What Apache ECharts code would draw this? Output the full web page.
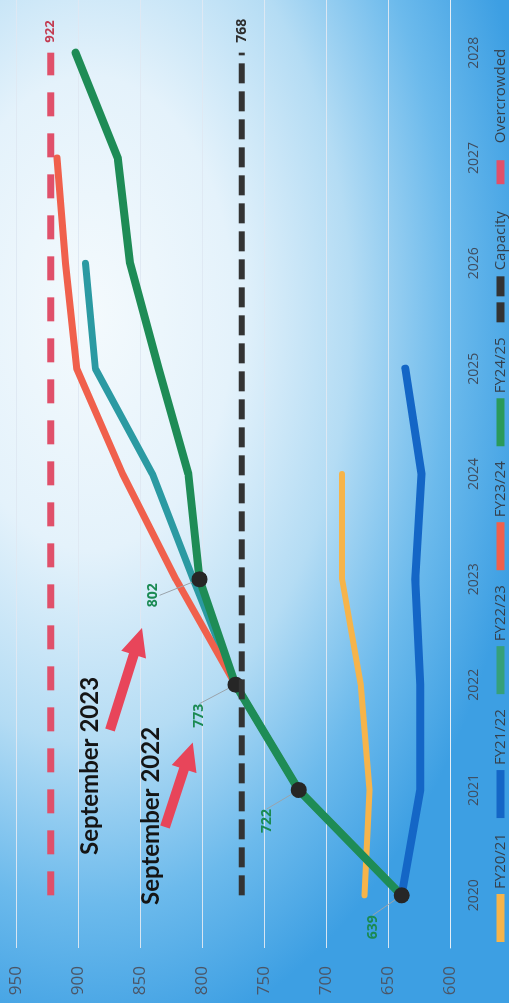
<!DOCTYPE html>
<html>
<head>
<meta charset="utf-8">
<script src="https://cdn.jsdelivr.net/npm/echarts@6/dist/echarts.min.js"></script>
<style>
html,body{margin:0;padding:0;width:509px;height:1003px;overflow:hidden;background:#4aa6e6;}
/* the photo shows the chart turned a quarter turn, so draw it flat and turn the box */
#turn{position:absolute;left:0;top:0;width:1003px;height:509px;
  transform-origin:0 0;transform:translate(0,1003px) rotate(-90deg);
  background:radial-gradient(ellipse 740px 450px at 690px 90px,#f4fafd 0%,#e4f2fb 32%,#b4dcf4 58%,#6cbaec 80%,#3d9fe3 100%);}
#chart{width:1003px;height:509px;}
</style>
</head>
<body>
<div id="turn"><div id="chart"></div></div>
<script>
// years on the category axis
var years = ['2020','2021','2022','2023','2024','2025','2026','2027','2028'];

// forecasts
var fy2021 = [669, 665, 672, 687, 687];
var fy2122 = [639, 624, 624, 628, 623, 636];
var fy2223 = [639, 722, 773, 807, 840, 886, 894];
var fy2324 = [639, 722, 773, 821, 864, 901, 910, 917];
var fy2425 = [639, 722, 773, 802, 811, 835, 858, 868, 902];
var capacity = [768, 768, 768, 768, 768, 768, 768, 768, 768];
var overcrowded = [922, 922, 922, 922, 922, 922, 922, 922, 922];
var actualCount = 4; // first points of FY24/25 are actuals (dots + labels)

var valueTicks = {min: 600, max: 950, step: 50};

// label shift for the green callouts
var labelShift = [[-32, -9], [-31, -12], [-31, -16], [-16, -27]];

var greenData = fy2425.map(function (v, i) {
    if (i < actualCount) {
        return {value: v, symbol: 'circle', label: {show: true}};
    }
    return {value: v, symbol: 'none'};
});

var txtFont = '"Open Sans", "Noto Sans", sans-serif';

function plain(name, data, color, width) {
    return {
        name: name,
        type: 'line',
        data: data,
        symbol: 'none',
        smooth: false,
        lineStyle: {color: color, width: width, cap: 'round', join: 'round'},
        itemStyle: {color: color}
    };
}

var chart = echarts.init(document.getElementById('chart'), null, {renderer: 'canvas'});
var option = {
    backgroundColor: 'transparent',
    animation: false,
    grid: {left: 55, right: -6, top: 16, bottom: 59},
    legend: {
        left: 56,
        top: 488,
        itemWidth: 48,
        itemHeight: 8,
        itemGap: 15,
        textStyle: {color: '#34414f', fontSize: 15, fontFamily: txtFont},
        itemStyle: {borderWidth: 0},
        data: [
            {name: 'FY20/21', icon: 'rect'},
            {name: 'FY21/22', icon: 'rect'},
            {name: 'FY22/23', icon: 'rect', itemStyle: {color: '#35a07a'}},
            {name: 'FY23/24', icon: 'rect'},
            {name: 'FY24/25', icon: 'rect', itemStyle: {color: '#2a9a5a'}},
            {name: 'Capacity', icon: 'path://M0,0H20V8H0Z M26,0H46V8H26Z'},
            {name: 'Overcrowded', icon: 'path://M0,0 M48,8 M12,0H36V8H12Z'}
        ]
    },
    xAxis: {
        type: 'category',
        data: years,
        boundaryGap: true,
        axisLine: {show: true, lineStyle: {color: 'rgba(228,238,247,0.9)'}},
        axisTick: {show: false},
        axisLabel: {color: '#3f4c5e', fontSize: 14, margin: 17, fontFamily: txtFont}
    },
    yAxis: {
        type: 'value',
        min: valueTicks.min,
        max: valueTicks.max,
        interval: valueTicks.step,
        axisLine: {show: false},
        axisTick: {show: false},
        axisLabel: {color: '#4a5668', fontSize: 17, margin: 18, fontFamily: txtFont},
        splitLine: {lineStyle: {color: 'rgba(222,232,242,0.95)', width: 1}}
    },
    series: [
        plain('FY20/21', fy2021, '#f6b44a', 6),
        plain('FY21/22', fy2122, '#1466c6', 8),
        plain('FY22/23', fy2223, '#2b9aa2', 7),
        plain('FY23/24', fy2324, '#f0604c', 7),
        {
            name: 'FY24/25',
            type: 'line',
            data: greenData,
            showSymbol: true,
            showAllSymbol: true,
            symbolSize: 16,
            lineStyle: {color: '#1e8c56', width: 8, cap: 'round', join: 'round'},
            itemStyle: {color: '#262626'},
            label: {
                show: false,
                position: 'top',
                color: '#1a8a52',
                fontWeight: 'bold',
                fontSize: 14,
                fontFamily: txtFont
            },
            labelLine: {show: true, lineStyle: {color: '#9aa3ab', width: 1}},
            labelLayout: function (p) {
                var s = labelShift[p.dataIndex];
                return s ? {dx: s[0], dy: s[1]} : {};
            },
            z: 3
        },
        {
            name: 'Capacity',
            type: 'line',
            data: capacity,
            symbol: 'none',
            lineStyle: {color: '#333333', width: 6, type: [20, 8]},
            itemStyle: {color: '#333333'},
            endLabel: {
                show: true,
                formatter: function (p) { return p.value; },
                color: '#2e2e2e',
                fontWeight: 'bold',
                fontSize: 14,
                distance: 10,
                fontFamily: txtFont
            },
            z: 4
        },
        {
            name: 'Overcrowded',
            type: 'line',
            data: overcrowded,
            symbol: 'none',
            lineStyle: {color: '#e0506a', width: 7, type: [24, 17]},
            itemStyle: {color: '#e0506a'},
            endLabel: {
                show: true,
                formatter: function (p) { return p.value; },
                color: '#c23a50',
                fontWeight: 'bold',
                fontSize: 13,
                distance: 10,
                fontFamily: txtFont
            }
        }
    ],
    graphic: [
        // annotations with red arrows
        {
            type: 'text', left: 148, top: 78, z: 10,
            style: {text: 'September 2023', fill: '#151515', font: 'bold 24px Lato, "Open Sans", sans-serif'}
        },
        {
            type: 'text', left: 98, top: 139, z: 10,
            style: {text: 'September 2022', fill: '#151515', font: 'bold 24px Lato, "Open Sans", sans-serif'}
        },
        {
            type: 'polygon', x: 273, y: 110, rotation: -0.304, z: 10,
            shape: {points: [[0, -5], [79, -5], [79, -13], [107, 0], [79, 13], [79, 5], [0, 5]]},
            style: {fill: '#e8455a'}
        },
        {
            type: 'polygon', x: 176, y: 165, rotation: -0.318, z: 10,
            shape: {points: [[0, -5], [61, -5], [61, -13], [89, 0], [61, 13], [61, 5], [0, 5]]},
            style: {fill: '#e8455a'}
        }
    ]
};
chart.setOption(option);
</script>
</body>
</html>
